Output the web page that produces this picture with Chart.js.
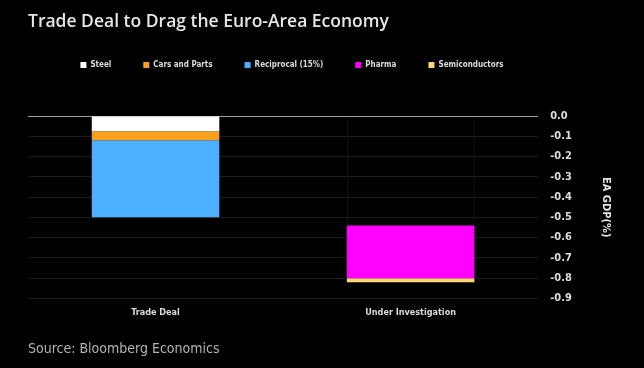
<!DOCTYPE html>
<html>
<head>
<meta charset="utf-8">
<script src="https://cdn.jsdelivr.net/npm/chart.js@4"></script>
<style>
  html, body { margin: 0; padding: 0; background: #000; }
  canvas { display: block; }
</style>
</head>
<body>
<canvas id="tradeChart" width="644" height="368"></canvas>
<script>
// categories and values (percent of EA GDP)
const categories = ["Trade Deal", "Under Investigation"];

const offsetValues = [0, -0.54];
const steelValues = [-0.075, 0];
const carsValues = [-0.045, 0];
const reciprocalValues = [-0.38, 0];
const pharmaValues = [0, -0.26];
const semiValues = [0, -0.02];

const seriesNames = ["Steel", "Cars and Parts", "Reciprocal (15%)", "Pharma", "Semiconductors"];
const seriesColors = ["#ffffff", "#f7a11a", "#4dafff", "#ff00ff", "#fcd772"];

const yTicks = [0, -0.1, -0.2, -0.3, -0.4, -0.5, -0.6, -0.7, -0.8, -0.9];

const seriesValues = [steelValues, carsValues, reciprocalValues, pharmaValues, semiValues];

const datasets = [
    {
        label: "offset",
        data: offsetValues,
        backgroundColor: "rgba(0,0,0,0)",
        borderColor: "#141414",
        borderWidth: { left: 1, right: 1, top: 0, bottom: 0 },
        borderSkipped: false
    }
];

seriesNames.forEach(function(name, i) {
    datasets.push({
        label: name,
        data: seriesValues[i],
        backgroundColor: seriesColors[i],
        borderWidth: 0
    });
});

// legend needs more room below it and sits left of centre
const legendTweak = {
    id: "legendTweak",
    beforeInit(chart) {
        const fit = chart.legend.fit;
        chart.legend.fit = function() {
            fit.bind(chart.legend)();
            this.height += 37;
        };
    },
    afterLayout(chart) {
        chart.legend.left -= 44;
        chart.legend.right -= 44;
    }
};

const labelFont = "'DejaVu Sans Condensed', 'DejaVu Sans', sans-serif";

new Chart(document.getElementById("tradeChart"), {
    type: "bar",
    data: {
        labels: categories,
        datasets: datasets
    },
    options: {
        responsive: false,
        animation: false,
        layout: {
            padding: { left: 28, right: 0, top: 0, bottom: 0 }
        },
        datasets: {
            bar: {
                barPercentage: 0.5,
                categoryPercentage: 1
            }
        },
        scales: {
            x: {
                stacked: true,
                grid: { display: false, drawTicks: false },
                border: { display: false },
                ticks: {
                    color: "#dddddd",
                    padding: 9,
                    font: { family: labelFont, size: 9, weight: "bold" }
                }
            },
            y: {
                stacked: true,
                position: "right",
                min: -0.9,
                max: 0,
                afterBuildTicks(scale) {
                    scale.ticks = yTicks.map(function(v) { return { value: v }; });
                },
                grid: {
                    drawTicks: false,
                    color: function(ctx) {
                        return ctx.tick && ctx.tick.value === 0 ? "#a0a0a0" : "#1c1c1c";
                    }
                },
                border: { display: false },
                ticks: {
                    color: "#dddddd",
                    padding: 12,
                    font: { family: labelFont, size: 11, weight: "bold" },
                    callback: function(v) { return Number(v).toFixed(1); }
                },
                title: {
                    display: true,
                    text: "EA GDP(%)",
                    color: "#e6e6e6",
                    font: { family: labelFont, size: 11, weight: "bold" },
                    padding: { top: 32, bottom: 15 }
                }
            }
        },
        plugins: {
            title: {
                display: true,
                text: "Trade Deal to Drag the Euro-Area Economy",
                align: "start",
                color: "#e6e6e6",
                font: { family: "'Open Sans', sans-serif", size: 17.5, weight: "600", lineHeight: 0.8 },
                padding: { top: 15, bottom: 0 }
            },
            subtitle: {
                display: true,
                position: "bottom",
                text: "Source: Bloomberg Economics",
                align: "start",
                color: "#b4b4b4",
                font: { family: "'DejaVu Sans Condensed', sans-serif", size: 14, lineHeight: 1.2 },
                padding: { top: 14, bottom: 10 }
            },
            legend: {
                position: "top",
                labels: {
                    color: "#dddddd",
                    boxWidth: 6,
                    boxHeight: 6,
                    padding: 32,
                    font: { family: labelFont, size: 8, weight: "bold" },
                    filter: function(item) { return item.text !== "offset"; }
                }
            },
            tooltip: { enabled: false }
        }
    },
    plugins: [legendTweak]
});
</script>
</body>
</html>
